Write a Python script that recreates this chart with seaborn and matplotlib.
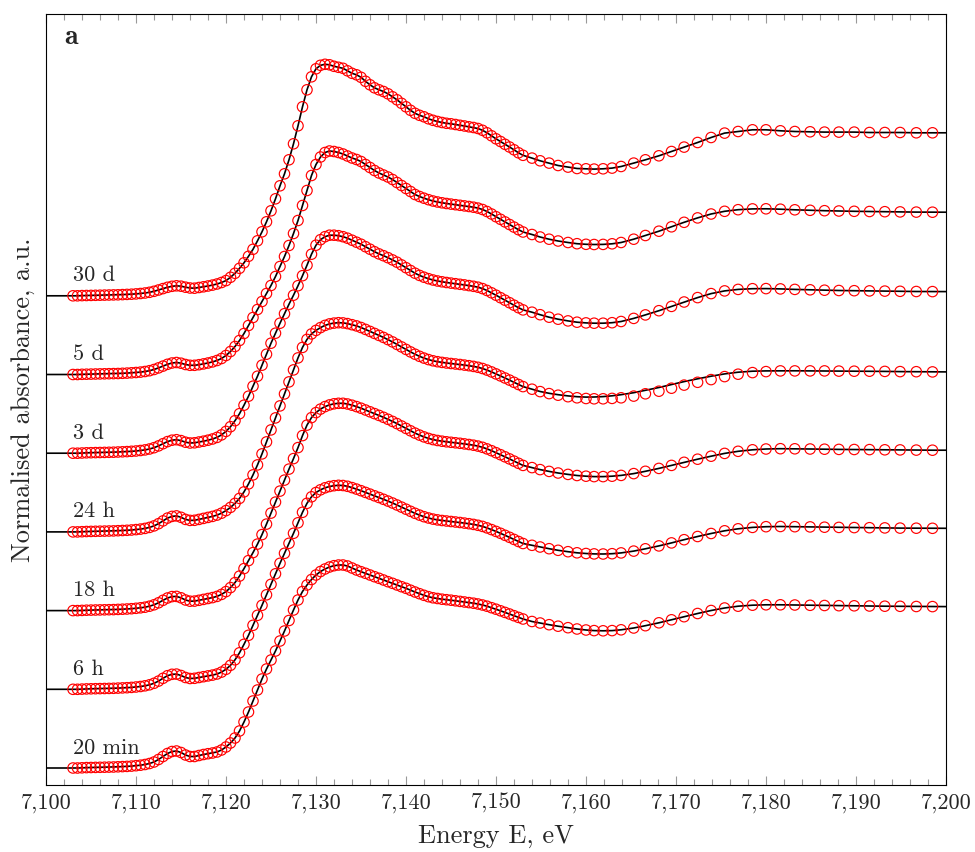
import matplotlib
matplotlib.use("Agg")
import matplotlib.pyplot as plt
from matplotlib.ticker import MultipleLocator, FuncFormatter
import numpy as np
import seaborn as sns

# energy grid of the scan (eV): fine steps over the edge, coarser after 7153 eV
energy_dense = [
    7103.0, 7103.5, 7104.0, 7104.5, 7105.0, 7105.5, 7106.0, 7106.5, 7107.0, 7107.5,
    7108.0, 7108.5, 7109.0, 7109.5, 7110.0, 7110.5, 7111.0, 7111.5, 7112.0, 7112.5,
    7113.0, 7113.5, 7114.0, 7114.5, 7115.0, 7115.5, 7116.0, 7116.5, 7117.0, 7117.5,
    7118.0, 7118.5, 7119.0, 7119.5, 7120.0, 7120.5, 7121.0, 7121.5, 7122.0, 7122.5,
    7123.0, 7123.5, 7124.0, 7124.5, 7125.0, 7125.5, 7126.0, 7126.5, 7127.0, 7127.5,
    7128.0, 7128.5, 7129.0, 7129.5, 7130.0, 7130.5, 7131.0, 7131.5, 7132.0, 7132.5,
    7133.0, 7133.5, 7134.0, 7134.5, 7135.0, 7135.5, 7136.0, 7136.5, 7137.0, 7137.5,
    7138.0, 7138.5, 7139.0, 7139.5, 7140.0, 7140.5, 7141.0, 7141.5, 7142.0, 7142.5,
    7143.0, 7143.5, 7144.0, 7144.5, 7145.0, 7145.5, 7146.0, 7146.5, 7147.0, 7147.5,
    7148.0, 7148.5, 7149.0, 7149.5, 7150.0, 7150.5, 7151.0, 7151.5, 7152.0, 7152.5,
    7153.0,
]
energy_sparse = [
    7154.0, 7154.9, 7155.9, 7156.9, 7158.0, 7159.0, 7160.0, 7160.9, 7161.9, 7162.9,
    7163.9, 7165.3, 7166.6, 7168.1, 7169.5, 7170.9, 7172.4, 7173.9, 7175.4, 7176.9,
    7178.5, 7180.0, 7181.6, 7183.2, 7184.9, 7186.5, 7188.1, 7189.8, 7191.5, 7193.2,
    7194.9, 7196.7, 7198.5,
]

labels = ["20 min", "6 h", "18 h", "24 h", "3 d", "5 d", "30 d"]

# absorbance (before vertical offset), dense part then sparse part
mu_20min = [
    0.000, 0.000, 0.002, 0.004, 0.005, 0.006, 0.007, 0.008, 0.009, 0.010,
    0.012, 0.014, 0.016, 0.019, 0.023, 0.028, 0.035, 0.045, 0.060, 0.085,
    0.115, 0.145, 0.165, 0.170, 0.155, 0.130, 0.115, 0.115, 0.125, 0.135,
    0.143, 0.150, 0.160, 0.180, 0.210, 0.250, 0.300, 0.370, 0.460, 0.560,
    0.670, 0.780, 0.890, 0.990, 1.080, 1.170, 1.270, 1.370, 1.475, 1.580,
    1.680, 1.765, 1.830, 1.885, 1.930, 1.965, 1.990, 2.010, 2.023, 2.030,
    2.030, 2.020, 2.000, 1.980, 1.963, 1.947, 1.930, 1.913, 1.897, 1.880,
    1.863, 1.847, 1.830, 1.813, 1.797, 1.778, 1.760, 1.743, 1.727, 1.713,
    1.702, 1.695, 1.688, 1.683, 1.678, 1.672, 1.666, 1.660, 1.654, 1.648,
    1.640, 1.630, 1.618, 1.603, 1.588, 1.572, 1.556, 1.540, 1.523, 1.506,
    1.490,
    1.465, 1.450, 1.433, 1.418, 1.403, 1.390, 1.380, 1.374, 1.372, 1.374,
    1.382, 1.400, 1.423, 1.452, 1.482, 1.513, 1.545, 1.575, 1.600, 1.618,
    1.628, 1.632, 1.632, 1.630, 1.627, 1.625, 1.623, 1.622, 1.620, 1.618,
    1.617, 1.615, 1.614,
]
mu_6h = [
    0.000, 0.000, 0.002, 0.004, 0.005, 0.006, 0.007, 0.008, 0.009, 0.010,
    0.012, 0.014, 0.016, 0.019, 0.023, 0.028, 0.035, 0.045, 0.060, 0.082,
    0.110, 0.136, 0.150, 0.152, 0.138, 0.118, 0.108, 0.110, 0.118, 0.126,
    0.134, 0.142, 0.153, 0.172, 0.200, 0.240, 0.295, 0.365, 0.450, 0.540,
    0.640, 0.740, 0.840, 0.945, 1.050, 1.155, 1.260, 1.360, 1.460, 1.560,
    1.665, 1.770, 1.860, 1.925, 1.968, 1.995, 2.015, 2.028, 2.036, 2.040,
    2.038, 2.030, 2.017, 2.002, 1.986, 1.969, 1.952, 1.935, 1.918, 1.900,
    1.882, 1.863, 1.843, 1.822, 1.801, 1.780, 1.760, 1.742, 1.726, 1.713,
    1.702, 1.694, 1.688, 1.683, 1.678, 1.673, 1.668, 1.662, 1.656, 1.649,
    1.640, 1.629, 1.614, 1.597, 1.579, 1.560, 1.540, 1.520, 1.499, 1.478,
    1.458,
    1.440, 1.423, 1.406, 1.390, 1.376, 1.365, 1.358, 1.354, 1.353, 1.356,
    1.364, 1.382, 1.405, 1.434, 1.464, 1.496, 1.528, 1.558, 1.585, 1.605,
    1.619, 1.626, 1.628, 1.626, 1.624, 1.621, 1.619, 1.617, 1.616, 1.614,
    1.612, 1.611, 1.610,
]
mu_18h = [
    0.000, 0.000, 0.002, 0.004, 0.005, 0.006, 0.007, 0.008, 0.009, 0.010,
    0.012, 0.014, 0.016, 0.019, 0.023, 0.028, 0.034, 0.044, 0.058, 0.078,
    0.103, 0.126, 0.140, 0.142, 0.128, 0.106, 0.094, 0.095, 0.103, 0.112,
    0.121, 0.130, 0.142, 0.162, 0.190, 0.230, 0.280, 0.345, 0.420, 0.500,
    0.580, 0.665, 0.760, 0.865, 0.975, 1.085, 1.195, 1.305, 1.415, 1.520,
    1.630, 1.750, 1.855, 1.930, 1.980, 2.015, 2.040, 2.057, 2.068, 2.073,
    2.073, 2.066, 2.054, 2.040, 2.024, 2.006, 1.988, 1.970, 1.952, 1.933,
    1.913, 1.892, 1.870, 1.846, 1.822, 1.798, 1.775, 1.755, 1.737, 1.722,
    1.710, 1.701, 1.694, 1.688, 1.683, 1.678, 1.673, 1.667, 1.661, 1.654,
    1.645, 1.633, 1.617, 1.599, 1.579, 1.559, 1.538, 1.517, 1.495, 1.473,
    1.452,
    1.430, 1.410, 1.392, 1.376, 1.362, 1.351, 1.344, 1.340, 1.340, 1.344,
    1.352, 1.370, 1.393, 1.422, 1.452, 1.483, 1.514, 1.544, 1.572, 1.593,
    1.608, 1.616, 1.619, 1.618, 1.616, 1.614, 1.612, 1.611, 1.610, 1.608,
    1.607, 1.605, 1.604,
]
mu_24h = [
    0.000, 0.000, 0.002, 0.004, 0.005, 0.006, 0.007, 0.008, 0.009, 0.010,
    0.012, 0.014, 0.016, 0.019, 0.023, 0.028, 0.035, 0.045, 0.060, 0.082,
    0.110, 0.138, 0.155, 0.160, 0.146, 0.125, 0.115, 0.116, 0.125, 0.135,
    0.145, 0.155, 0.168, 0.187, 0.213, 0.245, 0.285, 0.335, 0.400, 0.480,
    0.570, 0.670, 0.780, 0.900, 1.020, 1.140, 1.260, 1.380, 1.500, 1.620,
    1.740, 1.845, 1.925, 1.980, 2.015, 2.043, 2.065, 2.080, 2.088, 2.092,
    2.090, 2.083, 2.072, 2.060, 2.044, 2.025, 2.005, 1.985, 1.965, 1.945,
    1.923, 1.900, 1.875, 1.850, 1.825, 1.800, 1.777, 1.756, 1.738, 1.723,
    1.711, 1.702, 1.695, 1.689, 1.684, 1.679, 1.674, 1.668, 1.662, 1.655,
    1.646, 1.634, 1.618, 1.600, 1.580, 1.560, 1.539, 1.518, 1.496, 1.474,
    1.453,
    1.427, 1.403, 1.383, 1.367, 1.352, 1.341, 1.334, 1.331, 1.331, 1.335,
    1.341, 1.358, 1.381, 1.407, 1.437, 1.468, 1.496, 1.523, 1.553, 1.577,
    1.593, 1.603, 1.610, 1.610, 1.610, 1.610, 1.608, 1.607, 1.607, 1.605,
    1.603, 1.602, 1.600,
]
mu_3d = [
    0.000, 0.000, 0.002, 0.004, 0.005, 0.006, 0.007, 0.008, 0.009, 0.010,
    0.012, 0.014, 0.016, 0.019, 0.022, 0.027, 0.033, 0.042, 0.055, 0.073,
    0.095, 0.116, 0.130, 0.135, 0.126, 0.110, 0.102, 0.104, 0.112, 0.120,
    0.130, 0.142, 0.158, 0.183, 0.218, 0.265, 0.325, 0.395, 0.480, 0.570,
    0.670, 0.770, 0.880, 0.990, 1.100, 1.200, 1.300, 1.395, 1.490, 1.580,
    1.675, 1.775, 1.880, 1.990, 2.080, 2.135, 2.165, 2.180, 2.180, 2.175,
    2.165, 2.150, 2.130, 2.110, 2.090, 2.065, 2.040, 2.015, 1.993, 1.975,
    1.955, 1.933, 1.910, 1.883, 1.855, 1.827, 1.800, 1.778, 1.760, 1.745,
    1.732, 1.722, 1.714, 1.707, 1.701, 1.695, 1.689, 1.683, 1.676, 1.669,
    1.660, 1.646, 1.627, 1.604, 1.580, 1.555, 1.530, 1.505, 1.480, 1.455,
    1.433,
    1.410, 1.385, 1.360, 1.340, 1.323, 1.310, 1.303, 1.300, 1.300, 1.305,
    1.317, 1.348, 1.383, 1.425, 1.468, 1.512, 1.556, 1.596, 1.623, 1.638,
    1.645, 1.646, 1.643, 1.638, 1.634, 1.630, 1.627, 1.625, 1.623, 1.621,
    1.619, 1.617, 1.616,
]
mu_5d = [
    0.000, 0.000, 0.002, 0.003, 0.004, 0.005, 0.006, 0.007, 0.008, 0.009,
    0.010, 0.012, 0.014, 0.017, 0.020, 0.024, 0.030, 0.038, 0.050, 0.066,
    0.084, 0.102, 0.115, 0.120, 0.113, 0.100, 0.092, 0.092, 0.098, 0.106,
    0.115, 0.126, 0.140, 0.160, 0.190, 0.230, 0.280, 0.340, 0.410, 0.490,
    0.570, 0.650, 0.730, 0.810, 0.890, 0.980, 1.080, 1.180, 1.290, 1.410,
    1.540, 1.690, 1.840, 1.990, 2.100, 2.175, 2.220, 2.235, 2.230, 2.220,
    2.205, 2.185, 2.165, 2.150, 2.130, 2.100, 2.070, 2.040, 2.015, 1.995,
    1.975, 1.950, 1.920, 1.890, 1.860, 1.830, 1.800, 1.780, 1.763, 1.748,
    1.735, 1.725, 1.717, 1.710, 1.704, 1.698, 1.692, 1.686, 1.680, 1.673,
    1.664, 1.650, 1.630, 1.605, 1.578, 1.552, 1.526, 1.500, 1.474, 1.448,
    1.425,
    1.400, 1.375, 1.353, 1.335, 1.320, 1.308, 1.302, 1.300, 1.301, 1.307,
    1.320, 1.353, 1.390, 1.433, 1.477, 1.522, 1.566, 1.605, 1.632, 1.648,
    1.656, 1.657, 1.653, 1.647, 1.642, 1.638, 1.635, 1.632, 1.630, 1.628,
    1.626, 1.624, 1.623,
]
mu_30d = [
    0.000, 0.000, 0.002, 0.003, 0.004, 0.005, 0.006, 0.007, 0.008, 0.009,
    0.010, 0.012, 0.014, 0.016, 0.019, 0.023, 0.028, 0.035, 0.045, 0.058,
    0.072, 0.085, 0.095, 0.100, 0.096, 0.086, 0.078, 0.076, 0.083, 0.090,
    0.098, 0.107, 0.118, 0.133, 0.152, 0.185, 0.225, 0.275, 0.330, 0.395,
    0.465, 0.550, 0.640, 0.740, 0.850, 0.970, 1.100, 1.220, 1.360, 1.520,
    1.700, 1.890, 2.060, 2.190, 2.270, 2.305, 2.315, 2.310, 2.295, 2.285,
    2.275, 2.250, 2.225, 2.210, 2.185, 2.145, 2.110, 2.080, 2.060, 2.043,
    2.020, 1.990, 1.960, 1.925, 1.890, 1.855, 1.825, 1.805, 1.790, 1.770,
    1.755, 1.743, 1.733, 1.725, 1.720, 1.713, 1.705, 1.698, 1.690, 1.683,
    1.673, 1.655, 1.630, 1.600, 1.570, 1.543, 1.515, 1.488, 1.460, 1.430,
    1.405,
    1.377, 1.350, 1.327, 1.303, 1.287, 1.273, 1.270, 1.267, 1.270, 1.277,
    1.293, 1.327, 1.360, 1.400, 1.443, 1.487, 1.533, 1.583, 1.627, 1.643,
    1.660, 1.660, 1.650, 1.643, 1.640, 1.637, 1.637, 1.637, 1.633, 1.633,
    1.633, 1.630, 1.630,
]
# the 24 h fit departs a little from its data between 7155 and 7180 eV
fit_24h_tail = [
    1.427, 1.404, 1.386, 1.372, 1.360, 1.352, 1.348, 1.349, 1.353, 1.361,
    1.372, 1.392, 1.416, 1.444, 1.474, 1.503, 1.531, 1.557, 1.580, 1.597,
    1.607, 1.610, 1.611, 1.611, 1.610, 1.610, 1.608, 1.607, 1.607, 1.605,
    1.603, 1.602, 1.600,
]

spectra = [mu_20min, mu_6h, mu_18h, mu_24h, mu_3d, mu_5d, mu_30d]
energy = energy_dense + energy_sparse
n_dense = len(energy_dense)
offset_step = 0.787

sns.set_theme(style="white")
plt.rcParams["font.family"] = "cmr10"
plt.rcParams["mathtext.fontset"] = "cm"
plt.rcParams["axes.formatter.use_mathtext"] = True

fig = plt.figure(figsize=(9.75, 8.52), dpi=100)
ax = fig.add_axes([46 / 975, 67 / 852, 900 / 975, 771 / 852])

for i, (lab, mu) in enumerate(zip(labels, spectra)):
    off = i * offset_step
    fit = list(mu)
    if lab == "24 h":
        fit = mu[:n_dense] + fit_24h_tail
    # fit line runs across the whole axis
    e_fit = [7100.0] + energy + [7200.0]
    y_fit = np.array([fit[0]] + fit + [fit[-1]]) + off
    sns.lineplot(x=e_fit, y=y_fit, color="black", linewidth=1.2, sort=False,
                 ax=ax, zorder=2)
    sns.scatterplot(x=energy, y=np.array(mu) + off, marker="o", s=56,
                    facecolors="none", edgecolor="red", linewidth=0.85,
                    ax=ax, zorder=3)
    ax.text(7103, off + 0.145, lab, fontsize=16, va="baseline")

ax.set_xlim(7100, 7200)
ax.set_ylim(-0.17, 7.54)
ax.xaxis.set_major_locator(MultipleLocator(10))
ax.xaxis.set_minor_locator(MultipleLocator(2))
ax.xaxis.set_major_formatter(FuncFormatter(lambda v, p: f"{v:,.0f}"))
ax.set_yticks([])
ax.tick_params(axis="x", which="both", direction="in", top=True, bottom=True,
               color="0.6", width=0.8, labelsize=16, pad=6)
ax.tick_params(axis="x", which="major", length=6.5)
ax.tick_params(axis="x", which="minor", length=4)
for s in ax.spines.values():
    s.set_color("black")
    s.set_linewidth(0.8)
ax.grid(False)

ax.set_xlabel("Energy E, eV", fontsize=19, labelpad=8)
ax.set_ylabel("Normalised absorbance, a.u.", fontsize=19, labelpad=8)
ax.text(0.02, 0.961, "a", transform=ax.transAxes, fontfamily="cmb10",
        fontsize=20, va="baseline")

fig.savefig("out.png", dpi=100)
